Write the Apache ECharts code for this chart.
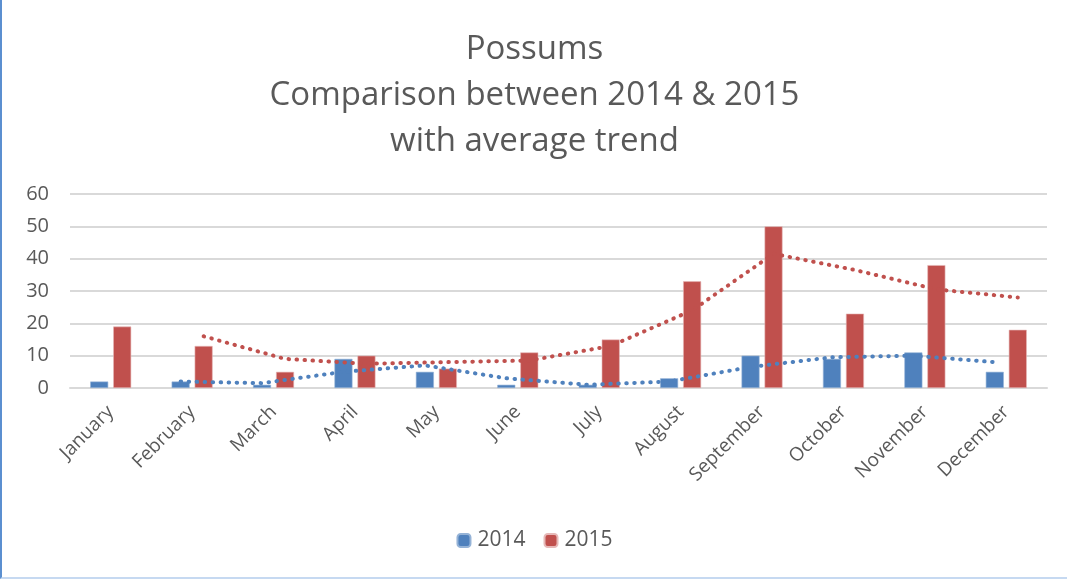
<!DOCTYPE html>
<html lang="en">
<head>
    <meta charset="UTF-8">
    <script src="https://cdn.jsdelivr.net/npm/echarts@6/dist/echarts.min.js"></script>
    <title>Possums</title>
</head>
<body style="margin:0; background:#fff;">
<div id="container" style="width:1067px; height:579px; box-sizing:border-box; border-left:2px solid #5b8fd0; border-bottom:2px solid #c6d9f1;"></div>
<script>
    // data
    let months = ['January', 'February', 'March', 'April', 'May', 'June',
        'July', 'August', 'September', 'October', 'November', 'December'];
    let y2014 = [2, 2, 1, 9, 5, 1, 1, 3, 10, 9, 11, 5];
    let y2015 = [19, 13, 5, 10, 6, 11, 15, 33, 50, 23, 38, 18];
    let yTicks = [0, 10, 20, 30, 40, 50, 60];

    let barWidth = 18;
    let barGapPx = 5;
    let catWidth = (1067 - 2 - 68 - 20) / months.length;
    // centre of each bar relative to the category centre, in category units
    let shift = (barWidth + barGapPx) / 2 / catWidth;

    // 2-period moving average, like the excel trendline
    function movingAvg(arr, off) {
        let out = [];
        for (let i = 1; i < arr.length; i++) {
            out.push([i + off, (arr[i - 1] + arr[i]) / 2]);
        }
        return out;
    }

    let dom = document.getElementById('container');
    let myChart = echarts.init(dom);
    let textColor = '#595959';
    let font = '"Open Sans", sans-serif';

    let option = {
        animation: false,
        title: {
            text: 'Possums\nComparison between 2014 & 2015\nwith average trend',
            left: 'center',
            top: 22,
            textStyle: {
                color: textColor,
                fontFamily: font,
                fontWeight: 'normal',
                fontSize: 33,
                lineHeight: 46
            }
        },
        legend: {
            bottom: 21,
            left: 'center',
            itemWidth: 13,
            itemHeight: 13,
            itemGap: 18,
            data: ['2014', '2015'],
            textStyle: {color: textColor, fontFamily: font, fontSize: 21, padding: [0, 0, 0, 2]}
        },
        grid: {left: 68, right: 20, top: 194, bottom: 189},
        xAxis: [{
            type: 'category',
            data: months,
            axisTick: {show: false},
            axisLine: {lineStyle: {color: '#d9d9d9', width: 2}},
            axisLabel: {
                rotate: 45,
                color: textColor,
                fontFamily: font,
                fontSize: 19,
                margin: 21,
                interval: 0
            }
        }, {
            type: 'value',
            min: -0.5,
            max: months.length - 0.5,
            show: false
        }],
        yAxis: {
            type: 'value',
            min: 0,
            max: 60,
            interval: 10,
            axisLine: {show: false},
            axisTick: {show: false},
            axisLabel: {
                color: textColor,
                fontFamily: font,
                fontSize: 20,
                margin: 21,
                formatter: function (v) {
                    return yTicks.indexOf(v) >= 0 ? String(v) : '';
                }
            },
            splitLine: {lineStyle: {color: '#d9d9d9', width: 2}}
        },
        series: [
            {
                name: '2014',
                type: 'bar',
                data: y2014,
                barWidth: barWidth,
                barGap: (barGapPx / barWidth * 100) + '%',
                itemStyle: {color: '#4f81bd', borderColor: '#95b3d7', borderWidth: 0.6}
            },
            {
                name: '2015',
                type: 'bar',
                data: y2015,
                barWidth: barWidth,
                itemStyle: {color: '#c0504d', borderColor: '#e6b9b8', borderWidth: 0.6}
            },
            {
                name: '2014 trend',
                type: 'line',
                xAxisIndex: 1,
                data: movingAvg(y2014, -shift),
                showSymbol: false,
                lineStyle: {color: '#4f81bd', width: 4, type: [0.5, 7.5], cap: 'round'},
                z: 5
            },
            {
                name: '2015 trend',
                type: 'line',
                xAxisIndex: 1,
                data: movingAvg(y2015, shift),
                showSymbol: false,
                lineStyle: {color: '#c0504d', width: 4, type: [0.5, 7.5], cap: 'round'},
                z: 5
            }
        ]
    };

    myChart.setOption(option);
</script>
</body>
</html>
